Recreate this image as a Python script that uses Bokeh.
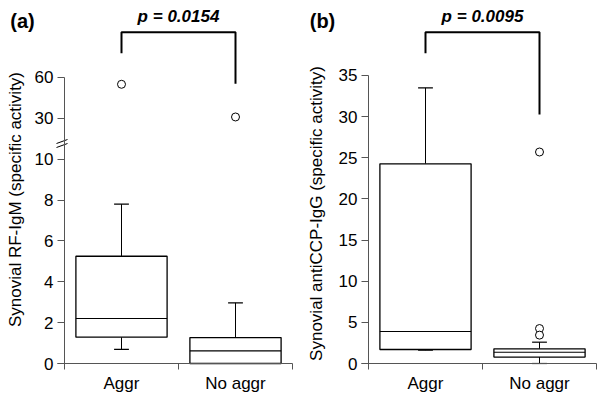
import numpy as np
from bokeh.plotting import figure
from bokeh.models import Range1d, FixedTicker, Label
from bokeh.layouts import row
from bokeh.embed import file_html
from bokeh.resources import INLINE

# ---------------- data ----------------
categories = ["Aggr", "No aggr"]

# (a) Synovial RF-IgM
a_q1 = [1.29, 0.0]
a_median = [2.2, 0.62]
a_q3 = [5.25, 1.27]
a_lower = [0.69, 0.0]
a_upper = [7.8, 2.97]
a_outliers = [[55.0], [31.0]]
a_ticks = [0, 2, 4, 6, 8, 10, 30, 60]
a_pvalue = "p = 0.0154"
a_ylabel = "Synovial RF-IgM (specific activity)"

# (b) Synovial antiCCP-IgG
b_q1 = [1.70, 0.78]
b_median = [3.89, 1.37]
b_q3 = [24.27, 1.78]
b_lower = [1.62, 0.0]
b_upper = [33.5, 2.59]
b_outliers = [[], [25.7, 4.25, 3.45]]
b_ticks = [0, 5, 10, 15, 20, 25, 30, 35]
b_pvalue = "p = 0.0095"
b_ylabel = "Synovial antiCCP-IgG (specific activity)"

FONT = "Liberation Sans"
AXIS_COLOR = "#555555"
W, H = 300, 402
ZERO_PX = 363  # pixel row of value 0 (from top)
XPX = 114.0    # pixels per category unit


def brk(v):
    """broken axis (a): 0-10 linear, then 30 -> 12, 60 -> 14"""
    return v if v <= 10 else 12 + (v - 30) / 15.0


def make_panel(q1, med, q3, lo, up, outl, ticks, tf, ypx, axis_px, bracket,
               pval, tag, ylabel, ylab_px, tag_px):
    # frame covers the whole canvas; axes are drawn at fixed locations
    def xd(px):
        return 0.5 + (px - axis_px) / XPX

    def yd(py):
        return (ZERO_PX - py) / ypx

    p = figure(width=W, height=H, x_range=Range1d(xd(0), xd(W)),
               y_range=Range1d(yd(H), yd(0)), output_backend="svg",
               toolbar_location=None, min_border_left=0, min_border_right=0,
               min_border_top=0, min_border_bottom=0)
    p.xgrid.visible = False
    p.ygrid.visible = False
    p.outline_line_color = None
    p.background_fill_color = "white"
    p.border_fill_color = "white"

    xs = [i + 1 for i in range(len(categories))]
    hw = 0.4
    cw = 0.065
    q1t = [tf(v) for v in q1]
    medt = [tf(v) for v in med]
    q3t = [tf(v) for v in q3]
    lot = [tf(v) for v in lo]
    upt = [tf(v) for v in up]

    # whiskers
    p.segment(x0=xs, y0=q3t, x1=xs, y1=upt, line_color="black", line_width=1)
    p.segment(x0=xs, y0=q1t, x1=xs, y1=lot, line_color="black", line_width=1)
    p.segment(x0=[x - cw for x in xs], y0=upt, x1=[x + cw for x in xs], y1=upt,
              line_color="black", line_width=1.2)
    p.segment(x0=[x - cw for x in xs], y0=lot, x1=[x + cw for x in xs], y1=lot,
              line_color="black", line_width=1.2)
    # boxes
    p.quad(left=[x - hw for x in xs], right=[x + hw for x in xs], bottom=q1t,
           top=q3t, fill_color="white", line_color="black", line_width=1.3)
    p.segment(x0=[x - hw for x in xs], y0=medt, x1=[x + hw for x in xs], y1=medt,
              line_color="black", line_width=1.1)
    # outliers
    ox, oy = [], []
    for x, vals in zip(xs, outl):
        for v in vals:
            ox.append(x)
            oy.append(tf(v))
    if ox:
        p.scatter(ox, oy, marker="circle", size=8, fill_color="white",
                  line_color="black", line_width=1)

    # significance bracket
    lb, top, rb = (yd(v) for v in bracket)
    p.line([xs[0], xs[0], xs[1], xs[1]], [lb, top, top, rb], line_color="black",
           line_width=2)
    p.add_layout(Label(x=1.5, y=yd(16), text=pval, text_align="center",
                       text_baseline="middle", text_font=FONT,
                       text_font_size="17px", text_font_style="bold italic",
                       text_color="black"))
    # panel tag
    p.add_layout(Label(x=xd(tag_px[0]), y=yd(tag_px[1]), text=tag,
                       text_align="center", text_baseline="middle",
                       text_font=FONT, text_font_size="20px",
                       text_font_style="bold", text_color="black"))
    # y label
    p.add_layout(Label(x=xd(ylab_px[0]), y=yd(ylab_px[1]), text=ylabel,
                       angle=np.pi / 2, text_align="center",
                       text_baseline="middle", text_font=FONT,
                       text_font_size="17px", text_color="black"))

    # y axis
    ya = p.yaxis[0]
    ya.fixed_location = 0.5
    tpos = [tf(t) for t in ticks]
    ya.ticker = FixedTicker(ticks=tpos)
    ya.major_label_overrides = {tpos[i]: str(t) for i, t in enumerate(ticks)}
    ya.bounds = (0, tpos[-1])
    ya.axis_line_color = AXIS_COLOR
    ya.major_tick_line_color = AXIS_COLOR
    ya.major_tick_out = 7
    ya.major_tick_in = 0
    ya.minor_tick_line_color = None
    ya.major_label_standoff = 4
    ya.major_label_text_font = FONT
    ya.major_label_text_font_size = "17px"
    ya.major_label_text_color = "black"

    # x axis
    xa = p.xaxis[0]
    xa.fixed_location = 0
    xa.ticker = FixedTicker(ticks=xs, minor_ticks=[0.5, 1.5, 2.5])
    xa.major_label_overrides = {x: c for x, c in zip(xs, categories)}
    xa.bounds = (xd(axis_px - 7), 2.5)
    xa.axis_line_color = AXIS_COLOR
    xa.major_tick_line_color = None
    xa.major_tick_out = 0
    xa.major_tick_in = 0
    xa.minor_tick_line_color = AXIS_COLOR
    xa.minor_tick_out = 6
    xa.minor_tick_in = 0
    xa.major_label_standoff = 4
    xa.major_label_text_font = FONT
    xa.major_label_text_font_size = "17px"
    xa.major_label_text_color = "black"
    return p, xd, yd


# bracket rows (pixel rows from top): left leg end, top, right leg end
pa, xda, yda = make_panel(a_q1, a_median, a_q3, a_lower, a_upper, a_outliers,
                          a_ticks, brk, 20.43, 64, (52.7, 31.7, 83.3), a_pvalue,
                          "(a)", a_ylabel, (15, 199), (22, 20))
# axis break marks on (a)
pa.segment(x0=[xda(56), xda(56)], y0=[yda(143), yda(147)],
           x1=[xda(67), xda(67)], y1=[yda(139), yda(143)],
           line_color="black", line_width=1)

pb, xdb, ydb = make_panel(b_q1, b_median, b_q3, b_lower, b_upper, b_outliers,
                          b_ticks, lambda v: v, 8.229, 68, (52.7, 31.7, 114),
                          b_pvalue, "(b)", b_ylabel, (16, 213), (22, 20))

layout = row(pa, pb)
open("out.html", "w").write(file_html(layout, INLINE))
